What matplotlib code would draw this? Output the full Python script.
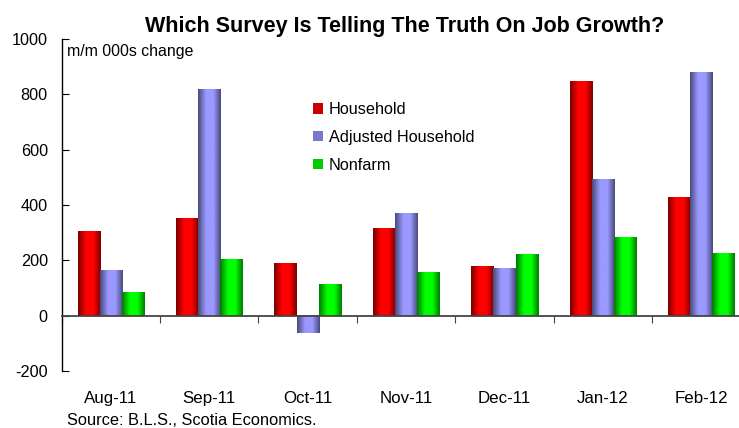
import numpy as np
import matplotlib
matplotlib.use("Agg")
import matplotlib.pyplot as plt
from matplotlib.patches import Patch

plt.rcParams['font.family'] = ['Liberation Sans', 'DejaVu Sans']
plt.rcParams['axes.unicode_minus'] = False

months = ["Aug-11", "Sep-11", "Oct-11", "Nov-11", "Dec-11", "Jan-12", "Feb-12"]
household = [304, 351, 189, 315, 179, 846, 427]
adj_household = [163, 817, -62, 372, 171, 492, 878]
nonfarm = [84, 203, 113, 156, 222, 283, 225]

series = [("Household", household, (1.0, 0.0, 0.0)),
          ("Adjusted Household", adj_household, (0.6, 0.6, 1.0)),
          ("Nonfarm", nonfarm, (0.0, 1.0, 0.0))]


def gradient(c, n=60):
    # dark edges, bright middle, like the old excel cylinder fill
    t = np.linspace(0, 1, n)
    f = np.clip(np.minimum(t / 0.35, (1 - t) / 0.32), 0, 1)
    f = 0.48 + 0.52 * f
    return np.array([[np.array(c) * v for v in f]])


fig = plt.figure(figsize=(7.39, 4.28), dpi=100)
ax = fig.add_axes([0.0835, 0.133, 0.932, 0.776])

x = np.arange(len(months))
w = 0.226
for i, (name, vals, col) in enumerate(series):
    bars = ax.bar(x + (i - 1) * w, vals, w, color="none", edgecolor="none")
    g = gradient(col)
    for b in bars:
        x0 = b.get_x()
        y0 = b.get_y()
        ax.imshow(g, extent=[x0, x0 + b.get_width(), y0, y0 + b.get_height()],
                  aspect="auto", interpolation="bilinear", zorder=2)

ax.set_xlim(-0.5, len(months) - 0.5)
ax.set_ylim(-200, 1000)
ax.set_aspect("auto")

ax.spines["top"].set_visible(False)
ax.spines["right"].set_visible(False)
ax.spines["bottom"].set_position(("data", 0))
ax.spines["bottom"].set_color("#444444")
ax.spines["bottom"].set_linewidth(1.3)
ax.spines["bottom"].set_zorder(3)
ax.spines["left"].set_linewidth(1.0)

ax.set_yticks(range(-200, 1001, 200))
ax.tick_params(axis="y", direction="in", length=5, pad=10, labelsize=11.7)
ax.set_xticks(np.arange(-0.5, len(months), 1.0))
ax.set_xticklabels([])
ax.tick_params(axis="x", direction="out", length=5, color="#444444")

for xi, m in zip(x, months):
    ax.text(xi, -0.084, m, transform=ax.get_xaxis_transform(),
            ha="center", va="center", fontsize=12.2)

ax.text(0.008, 0.949, "m/m 000s change", transform=ax.transAxes,
        fontsize=11.4, va="baseline", ha="left")

handles = [Patch(facecolor=tuple(np.array(c) * 0.8), edgecolor="none", label=n)
           for n, _, c in series]
ax.legend(handles=handles, loc="upper left", bbox_to_anchor=(0.3555, 0.829),
          frameon=False, fontsize=11.7, handlelength=0.62, handleheight=0.62,
          handletextpad=0.35, labelspacing=0.78, borderaxespad=0)

fig.text(0.547, 0.925, "Which Survey Is Telling The Truth On Job Growth?",
         ha="center", va="baseline", fontsize=15.5, fontweight="bold")
fig.text(0.0907, 0.006, "Source: B.L.S., Scotia Economics.", ha="left",
         va="baseline", fontsize=11.8)

fig.savefig("out.png", dpi=100)
